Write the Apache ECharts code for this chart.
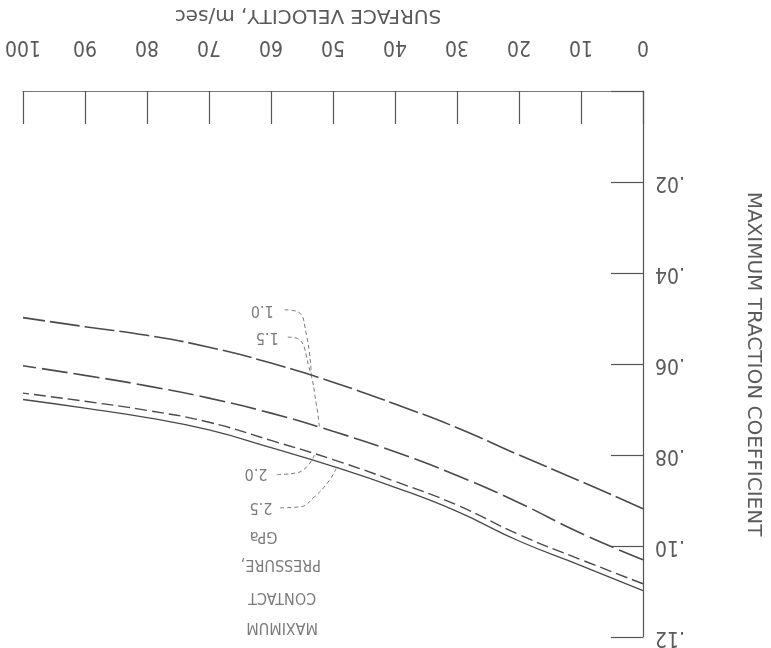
<!DOCTYPE html>
<html>
<head>
<meta charset="utf-8">
<script src="https://cdn.jsdelivr.net/npm/echarts@6/dist/echarts.min.js"></script>
<style>html,body{margin:0;padding:0;background:#fff}#c{width:771px;height:648px}</style>
</head>
<body>
<div id="c"></div>
<script>
// Surface velocity (m/sec) sample points
var velocity = [0, 10, 20, 30, 40, 50, 60, 70, 80, 90, 100];
// Maximum traction coefficient for each max contact pressure (GPa)
var mu_1_0 = [0.0918, 0.0858, 0.0800, 0.0740, 0.0688, 0.0640, 0.0598, 0.0563, 0.0537, 0.0518, 0.0498];
var mu_1_5 = [0.1030, 0.0972, 0.0905, 0.0845, 0.0793, 0.0748, 0.0708, 0.0675, 0.0648, 0.0625, 0.0604];
var mu_2_0 = [0.1083, 0.1030, 0.0975, 0.0910, 0.0858, 0.0810, 0.0768, 0.0728, 0.0702, 0.0682, 0.0664];
var mu_2_5 = [0.1098, 0.1043, 0.0989, 0.0924, 0.0871, 0.0825, 0.0784, 0.0745, 0.0718, 0.0697, 0.0678];
var seriesNames = ['1.0', '1.5', '2.0', '2.5'];
var xTicks = [0, 10, 20, 30, 40, 50, 60, 70, 80, 90, 100];
var yTicks = [0, 0.02, 0.04, 0.06, 0.08, 0.10, 0.12];
var yTickLabels = ['', '.02', '.04', '.06', '.08', '.10', '.12'];
var xTitle = 'SURFACE VELOCITY, m/sec';
var yTitle = 'MAXIMUM TRACTION COEFFICIENT';
// Annotation texts and their (velocity, traction) anchors
var noteTexts = ['1.0', '1.5', '2.0', '2.5', 'GPa', 'PRESSURE,', 'CONTACT', 'MAXIMUM'];
var noteV = [61.4, 60.6, 62.4, 61.6, 61.2, 58.4, 58.2, 58.2];
var noteMu = [0.0481, 0.0541, 0.0840, 0.0914, 0.0979, 0.1040, 0.1113, 0.1178];
// Leader lines (velocity, traction)
var leader_1_0 = [[57.8, 0.0481], [55.7, 0.0485], [54.3, 0.0535], [53.5, 0.0622]];
var leader_1_5 = [[57.3, 0.0541], [55.7, 0.0544], [53.8, 0.0611], [52.7, 0.0687], [52.2, 0.0738]];
var leader_2_0 = [[59.0, 0.0843], [56.2, 0.0840], [54.3, 0.0827], [53.0, 0.0800]];
var leader_2_5 = [[58.5, 0.0916], [55.4, 0.0914], [53.0, 0.0892], [50.6, 0.0856], [49.5, 0.0830]];

function pairs(xs, ys) { return xs.map(function (x, i) { return [x, ys[i]]; }); }

var textColor = '#5a5a5a';
var lineColor = '#4a4a4a';
var lineStyles = [
  { type: [30, 5], width: 1.6 },
  { type: [26, 6], width: 1.6 },
  { type: [12, 5], width: 1.4 },
  { type: 'solid', width: 1.3 }
];
var curves = [mu_1_0, mu_1_5, mu_2_0, mu_2_5];

var series = curves.map(function (c, i) {
  return {
    name: seriesNames[i], type: 'line', smooth: true, symbol: 'none',
    data: pairs(velocity, c),
    lineStyle: { color: lineColor, width: lineStyles[i].width, type: lineStyles[i].type },
    silent: true, z: 3
  };
});
[leader_1_0, leader_1_5, leader_2_0, leader_2_5].forEach(function (l) {
  series.push({
    type: 'line', smooth: true, symbol: 'none', data: l, silent: true,
    lineStyle: { color: '#777', width: 1, type: [4, 3] }, z: 2
  });
});
series.push({
  type: 'scatter', symbolSize: 0, silent: true,
  data: noteTexts.map(function (t, i) { return { value: [noteV[i], noteMu[i]], name: t }; }),
  label: {
    show: true, position: 'inside', rotate: 180, formatter: function (p) { return p.name; },
    color: textColor, fontSize: 16, fontFamily: 'DejaVu Sans Condensed, DejaVu Sans'
  }
});

var chart = echarts.init(document.getElementById('c'));
chart.setOption({
  backgroundColor: '#fff',
  animation: false,
  grid: { left: 23, right: 116, top: 83, bottom: 11, containLabel: false },
  xAxis: {
    type: 'value', min: 0, max: 100, interval: 10, inverse: true, position: 'top',
    name: xTitle, nameLocation: 'middle', nameGap: 66, nameRotate: 180,
    nameTextStyle: { color: textColor, fontSize: 20, fontFamily: 'DejaVu Sans', padding: [0, 0, 0, 50] },
    axisLine: { show: true, lineStyle: { color: '#777', width: 1 } },
    axisTick: { show: true, inside: true, length: 33, lineStyle: { color: '#555', width: 1.2 } },
    axisLabel: {
      rotate: 180, margin: 34, color: textColor, fontSize: 21,
      fontFamily: 'Liberation Sans Narrow, DejaVu Sans Condensed',
      formatter: function (v) { return xTicks.indexOf(v) >= 0 ? String(v) : ''; }
    },
    splitLine: { show: false }
  },
  yAxis: {
    type: 'value', min: 0, max: 0.12, interval: 0.02, inverse: true, position: 'right',
    name: yTitle, nameLocation: 'middle', nameGap: 100, nameRotate: -90,
    nameTextStyle: { color: textColor, fontSize: 20, fontFamily: 'DejaVu Sans' },
    axisLine: { show: true, lineStyle: { color: '#555', width: 1.2 } },
    axisTick: { show: true, inside: true, length: 32, lineStyle: { color: '#555', width: 1.2 } },
    axisLabel: {
      rotate: 180, margin: 12, color: textColor, fontSize: 21,
      fontFamily: 'Liberation Sans Narrow, DejaVu Sans Condensed',
      formatter: function (v) {
        for (var i = 0; i < yTicks.length; i++) { if (Math.abs(yTicks[i] - v) < 1e-9) return yTickLabels[i]; }
        return '';
      }
    },
    splitLine: { show: false }
  },
  series: series
});
</script>
</body>
</html>
